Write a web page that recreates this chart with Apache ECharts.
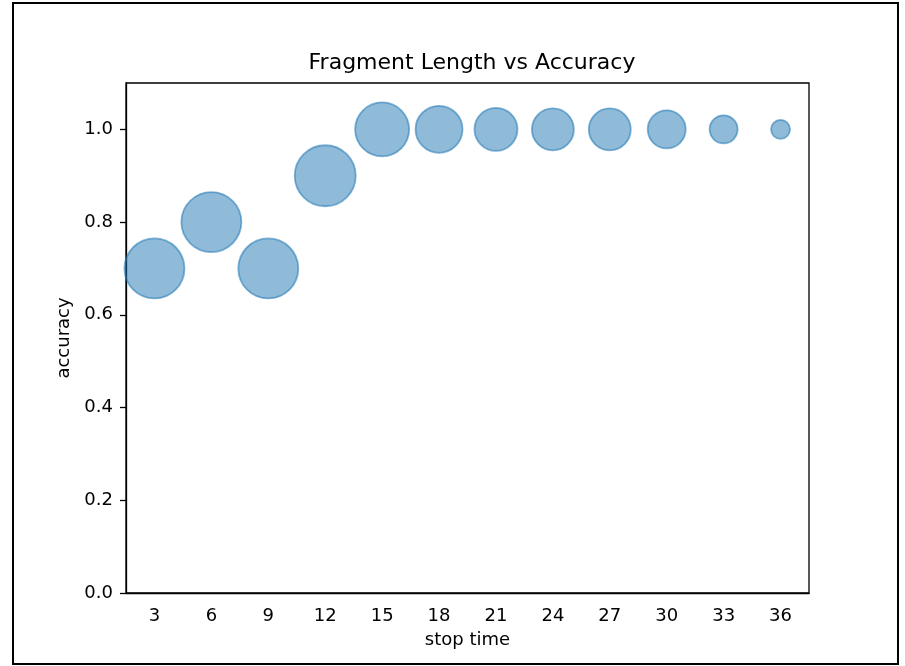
<!DOCTYPE html>
<html>
<head>
<meta charset="utf-8">
<script src="https://cdn.jsdelivr.net/npm/echarts@6/dist/echarts.min.js"></script>
<style>html,body{margin:0;padding:0;background:#fff;}#chart{width:905px;height:666px;}</style>
</head>
<body>
<div id="chart"></div>
<script>
var stopTimes = ['3','6','9','12','15','18','21','24','27','30','33','36'];
var accuracy = [0.7, 0.8, 0.7, 0.9, 1.0, 1.0, 1.0, 1.0, 1.0, 1.0, 1.0, 1.0];
var bubbleSize = [60, 60, 60, 61, 54, 47, 43, 42, 42, 38, 28, 19];
var yTicks = [0, 0.2, 0.4, 0.6, 0.8, 1.0];

var font = 'DejaVu Sans';
var chart = echarts.init(document.getElementById('chart'), null, {renderer: 'canvas'});
chart.setOption({
  animation: false,
  backgroundColor: '#fff',
  title: {
    text: 'Fragment Length vs Accuracy',
    left: 467, top: 47, textAlign: 'center',
    textStyle: {fontFamily: font, fontSize: 22, fontWeight: 'normal', color: '#000'}
  },
  graphic: [{
    type: 'rect', silent: true,
    shape: {x: 13, y: 3, width: 885, height: 661},
    style: {fill: 'none', stroke: '#000', lineWidth: 2}
  }],
  grid: {
    left: 126, right: 96, top: 83, bottom: 73,
    show: true, borderColor: '#000', borderWidth: 1.3, backgroundColor: 'transparent'
  },
  xAxis: {
    type: 'category',
    data: stopTimes,
    boundaryGap: true,
    name: 'stop time',
    nameLocation: 'middle',
    nameGap: 38,
    nameTextStyle: {fontFamily: font, fontSize: 18, color: '#000'},
    axisLine: {lineStyle: {color: '#000', width: 1.3}},
    axisTick: {alignWithLabel: true, length: 6, lineStyle: {color: '#000', width: 1.3}},
    axisLabel: {fontFamily: font, fontSize: 18, color: '#000', margin: 14},
    splitLine: {show: false}
  },
  yAxis: {
    type: 'value',
    min: 0, max: 1.1,
    name: 'accuracy',
    nameLocation: 'middle',
    nameGap: 52,
    nameTextStyle: {fontFamily: font, fontSize: 18, color: '#000'},
    axisLine: {show: true, lineStyle: {color: '#000', width: 1.3}},
    axisTick: {show: true, length: 6, customValues: yTicks, lineStyle: {color: '#000', width: 1.3}},
    axisLabel: {fontFamily: font, fontSize: 18, color: '#000', margin: 13,
      customValues: yTicks,
      formatter: function (v) { return v.toFixed(1); }},
    splitLine: {show: false}
  },
  series: [{
    type: 'scatter',
    data: accuracy.map(function (v, i) { return [i, v, bubbleSize[i]]; }),
    symbolSize: function (d) { return d[2]; },
    itemStyle: {
      color: 'rgba(31,119,180,0.5)',
      borderColor: 'rgba(31,119,180,0.55)',
      borderWidth: 1.8,
      opacity: 1
    },
    clip: false
  }]
});
</script>
</body>
</html>
